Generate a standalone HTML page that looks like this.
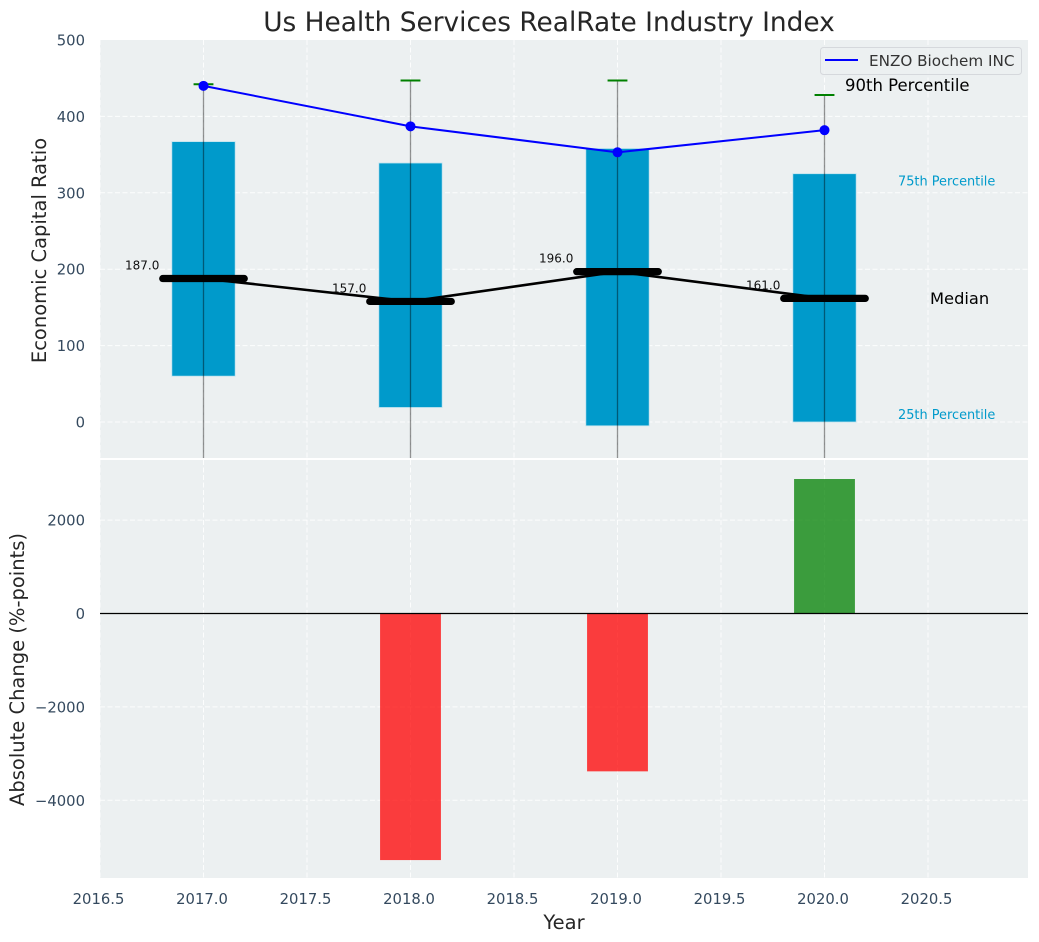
<!DOCTYPE html>
<html lang="en">
<head>
<meta charset="utf-8">
<title>Us Health Services RealRate Industry Index</title>
<style>
html,body{margin:0;padding:0;background:#fff;width:1039px;height:942px;overflow:hidden}
svg{display:block;font-family:"DejaVu Sans","Liberation Sans",sans-serif}
</style>
</head>
<body>
<svg id="chart" width="1039" height="942" viewBox="0 0 1039 942" xmlns="http://www.w3.org/2000/svg">
  <defs>
    <clipPath id="clip-top"><rect x="100" y="40" width="928" height="418"/></clipPath>
    <clipPath id="clip-bottom"><rect x="100" y="460" width="928" height="418"/></clipPath>
  </defs>
  <text x="549" y="31" text-anchor="middle" font-size="26.4" fill="#262626">Us Health Services RealRate Industry Index</text>
  <rect x="100" y="40" width="928" height="418" fill="#ecf0f1"/>
  <rect x="100" y="460" width="928" height="418" fill="#ecf0f1"/>
  <g id="grid"></g>
  <g id="top-marks" clip-path="url(#clip-top)"></g>
  <g id="bottom-marks" clip-path="url(#clip-bottom)"></g>
  <g id="ticks"></g>
  <text transform="translate(46 250.5) rotate(-90)" text-anchor="middle" font-size="19.5" fill="#262626">Economic Capital Ratio</text>
  <text transform="translate(24 669.5) rotate(-90)" text-anchor="middle" font-size="19.5" fill="#262626">Absolute Change (%-points)</text>
  <text x="564" y="929" text-anchor="middle" font-size="19.5" fill="#262626">Year</text>
  <g>
    <rect x="820.5" y="47.5" width="201" height="27" rx="3" fill="#ecf0f1" fill-opacity="0.85" stroke="#d5d8dc"/>
    <line x1="825" y1="60" x2="858" y2="60" stroke="#0000ff" stroke-width="2"/>
    <text x="869" y="66" font-size="15.2" fill="#333">ENZO Biochem INC</text>
  </g>
  <g id="annotations"></g>
</svg>
<script>
var years = [2017, 2018, 2019, 2020];
var p25 = [60, 19, -5, 0];
var p75 = [367, 339, 358, 325];
var medians = [187, 157, 196, 161];
var p90 = [442, 447, 447, 428];
var p10 = [-120, -120, -120, -120];
var company = [440, 387, 353, 382];
var changes = [0, -5280, -3380, 2880];
var xTicks = [2016.5, 2017, 2017.5, 2018, 2018.5, 2019, 2019.5, 2020, 2020.5];
var xTickLabels = ['2016.5', '2017.0', '2017.5', '2018.0', '2018.5', '2019.0', '2019.5', '2020.0', '2020.5'];
var topTicks = [0, 100, 200, 300, 400, 500];
var bottomTicks = [-4000, -2000, 0, 2000];
var bottomTickLabels = ['\u22124000', '\u22122000', '0', '2000'];

var NS = 'http://www.w3.org/2000/svg';
function x(v) { return 203.5 + (v - 2017) * 207; }
function yTop(v) { return 422 - v * 0.764; }
function yBottom(v) { return 613.5 - v * 0.0467; }
function make(parent, tag, attrs, text) {
  var el = document.createElementNS(NS, tag);
  for (var k in attrs) el.setAttribute(k, attrs[k]);
  if (text !== undefined) el.textContent = text;
  parent.appendChild(el);
  return el;
}
var grid = document.getElementById('grid');
var topMarks = document.getElementById('top-marks');
var bottomMarks = document.getElementById('bottom-marks');
var ticks = document.getElementById('ticks');
var annotations = document.getElementById('annotations');
var gridStyle = { stroke: '#ffffff', 'stroke-width': 1, 'stroke-opacity': 0.85, 'stroke-dasharray': '5 2.5', fill: 'none' };
function gridLine(x1, y1, x2, y2) {
  var l = make(grid, 'line', Object.assign({ x1: x1, y1: y1, x2: x2, y2: y2 }, gridStyle));
  
  
}
xTicks.forEach(function (t, i) {
  gridLine(x(t), 40, x(t), 458);
  gridLine(x(t), 460, x(t), 878);
  var lab = make(ticks, 'text', { x: x(t) - 1.5, y: 904, 'text-anchor': 'middle', 'font-size': 14.8, fill: '#34495e' }, xTickLabels[i]);
  
  
});
topTicks.forEach(function (t) {
  if (t < 500) gridLine(100, yTop(t), 1028, yTop(t));
  var lab = make(ticks, 'text', { x: 85, y: yTop(t) + 5.5, 'text-anchor': 'end', 'font-size': 14.8, fill: '#34495e' }, String(t));
  
  
});
bottomTicks.forEach(function (t, i) {
  gridLine(100, yBottom(t), 1028, yBottom(t));
  var lab = make(ticks, 'text', { x: 85, y: yBottom(t) + 5.5, 'text-anchor': 'end', 'font-size': 14.8, fill: '#34495e' }, bottomTickLabels[i]);
  
  
});

// interquartile bars
years.forEach(function (yr, i) {
  var bar = make(topMarks, 'rect', { x: x(yr - 0.153), y: yTop(p75[i]), width: 207 * 0.306, height: yTop(p25[i]) - yTop(p75[i]), fill: '#009acb', stroke: '#bfe3ee', 'stroke-width': 0.8 });
  
  
});
// median connecting line
var medianPath = make(topMarks, 'polyline', { points: years.map(function (yr, i) { return x(yr) + ',' + (yTop(medians[i]) - 0.6); }).join(' '), fill: 'none', stroke: '#000', 'stroke-width': 2.6 });


// whiskers and caps
years.forEach(function (yr, i) {
  var w = make(topMarks, 'line', { x1: x(yr), y1: yTop(p90[i]), x2: x(yr), y2: yTop(p10[i]), stroke: '#000', 'stroke-opacity': 0.42, 'stroke-width': 1.3 });
  
  
  var c = make(topMarks, 'line', { x1: x(yr - 0.048), y1: yTop(p90[i]), x2: x(yr + 0.048), y2: yTop(p90[i]), stroke: '#008000', 'stroke-width': 2 });
  
  
  var m = make(topMarks, 'line', { x1: x(yr - 0.197), y1: yTop(medians[i]) - 0.6, x2: x(yr + 0.197), y2: yTop(medians[i]) - 0.6, stroke: '#000', 'stroke-width': 7.2, 'stroke-linecap': 'round' });
  
  
  var t = make(annotations, 'text', { x: x(yr) - 78.5, y: yTop(medians[i]) - 9.6, 'font-size': 12, fill: '#111' }, medians[i].toFixed(1));
  
  
});
// company line
var companyPath = make(topMarks, 'polyline', { points: years.map(function (yr, i) { return x(yr) + ',' + yTop(company[i]); }).join(' '), fill: 'none', stroke: '#0000ff', 'stroke-width': 2 });


years.forEach(function (yr, i) {
  var d = make(topMarks, 'circle', { cx: x(yr), cy: yTop(company[i]), r: 5, fill: '#0000ff' });
  
  
});
// change bars
years.forEach(function (yr, i) {
  if (!changes[i]) return;
  var top = Math.min(yBottom(changes[i]), yBottom(0));
  var h = Math.abs(yBottom(changes[i]) - yBottom(0));
  var b = make(bottomMarks, 'rect', { x: x(yr - 0.147), y: top, width: 207 * 0.294, height: h, fill: changes[i] < 0 ? '#ff0000' : '#008000', 'fill-opacity': 0.75 });
  
  
});
var zero = make(bottomMarks, 'line', { x1: 100, y1: yBottom(0), x2: 1028, y2: yBottom(0), stroke: '#000', 'stroke-width': 1.3 });



// percentile annotations
var a90 = make(annotations, 'text', { x: 845, y: 91, 'font-size': 16.5, fill: '#000' }, '90th Percentile');


var a75 = make(annotations, 'text', { x: 898, y: 185.5, 'font-size': 12.9, fill: '#009acb' }, '75th Percentile');


var aMed = make(annotations, 'text', { x: 930, y: 304, 'font-size': 16.3, fill: '#000' }, 'Median');


var a25 = make(annotations, 'text', { x: 898, y: 419, 'font-size': 12.9, fill: '#009acb' }, '25th Percentile');


</script>
</body>
</html>
